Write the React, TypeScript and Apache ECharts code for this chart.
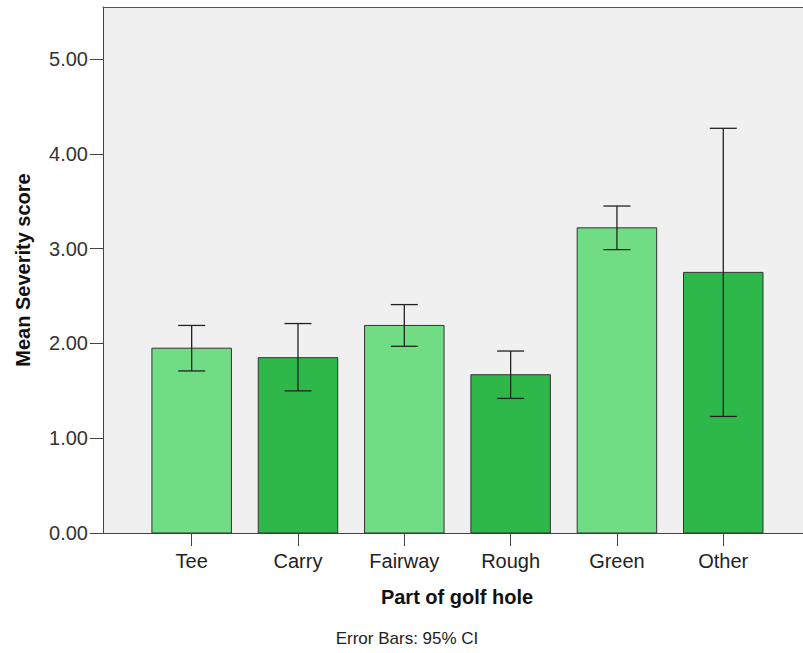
import React, { useEffect, useRef } from "react";
import * as echarts from "echarts";

const categories = ["Tee", "Carry", "Fairway", "Rough", "Green", "Other"];
const means = [1.95, 1.85, 2.19, 1.67, 3.22, 2.75];
const ciLower = [1.71, 1.5, 1.97, 1.42, 2.99, 1.23];
const ciUpper = [2.19, 2.21, 2.41, 1.92, 3.45, 4.27];
const yTicks = [0, 1, 2, 3, 4, 5];

const palette = ["#70DD84", "#2EB84A"];
const FONT = "'Liberation Sans', Arial, sans-serif";

export default function App() {
  const ref = useRef<HTMLDivElement>(null);

  useEffect(() => {
    if (!ref.current) return;
    const chart = echarts.init(ref.current, null, { renderer: "svg" });
    const positions = categories.map((_, i) => i + 1);

    const barData = means.map((m, i) => [positions[i], m]);
    const errData = means.map((_, i) => [positions[i], ciLower[i], ciUpper[i]]);

    const xMin = 0.166;
    const xMax = 6.75;

    chart.setOption({
      animation: false,
      backgroundColor: "#ffffff",
      grid: {
        left: 103,
        right: 0,
        top: 7,
        bottom: 120,
        show: true,
        backgroundColor: "#F0F0F0",
        borderWidth: 0,
      },
      xAxis: [
        {
          type: "value",
          min: xMin,
          max: xMax,
          position: "bottom",
          axisLine: { show: true, lineStyle: { color: "#444", width: 1 } },
          axisTick: {
            show: true,
            inside: false,
            customValues: positions,
            length: 13,
            lineStyle: { color: "#444" },
          },
          axisLabel: {
            show: true,
            customValues: positions,
            formatter: (v: number) => categories[Math.round(v) - 1] ?? "",
            fontFamily: FONT,
            fontSize: 20,
            color: "#222",
            margin: 18,
          },
          splitLine: { show: false },
        },
        {
          type: "value",
          min: xMin,
          max: xMax,
          position: "top",
          axisLine: { show: true, lineStyle: { color: "#555", width: 1 } },
          axisTick: { show: false },
          axisLabel: { show: false },
          splitLine: { show: false },
        },
      ],
      yAxis: {
        type: "value",
        min: 0,
        max: 5.55,
        name: "Mean Severity score",
        nameLocation: "middle",
        nameRotate: 90,
        nameGap: 70,
        nameTextStyle: { fontFamily: FONT, fontSize: 20, fontWeight: "bold", color: "#111" },
        axisLine: { show: true, lineStyle: { color: "#444", width: 1 } },
        axisTick: {
          show: true,
          inside: false,
          customValues: yTicks,
          length: 13,
          lineStyle: { color: "#444" },
        },
        axisLabel: {
          show: true,
          customValues: yTicks,
          formatter: (v: number) => v.toFixed(2),
          fontFamily: FONT,
          fontSize: 20,
          color: "#333",
          margin: 15,
        },
        splitLine: { show: false },
      },
      series: [
        {
          type: "custom",
          xAxisIndex: 0,
          data: barData,
          encode: { x: 0, y: 1 },
          renderItem: (params: any, api: any) => {
            const x = api.value(0);
            const y = api.value(1);
            const p0 = api.coord([x, 0]);
            const p1 = api.coord([x, y]);
            const w = 79.5;
            return {
              type: "rect",
              shape: { x: p0[0] - w / 2, y: p1[1], width: w, height: p0[1] - p1[1] },
              style: {
                fill: palette[params.dataIndex % 2],
                stroke: "#333",
                lineWidth: 1,
              },
            };
          },
        },
        {
          type: "custom",
          xAxisIndex: 0,
          data: errData,
          encode: { x: 0, y: [1, 2] },
          z: 5,
          renderItem: (params: any, api: any) => {
            const x = api.value(0);
            const lo = api.coord([x, api.value(1)]);
            const hi = api.coord([x, api.value(2)]);
            const hw = 13.5;
            const st = { stroke: "#222", lineWidth: 1.3 };
            return {
              type: "group",
              children: [
                { type: "line", shape: { x1: lo[0], y1: lo[1], x2: hi[0], y2: hi[1] }, style: st },
                { type: "line", shape: { x1: lo[0] - hw, y1: lo[1], x2: lo[0] + hw, y2: lo[1] }, style: st },
                { type: "line", shape: { x1: hi[0] - hw, y1: hi[1], x2: hi[0] + hw, y2: hi[1] }, style: st },
              ],
            };
          },
        },
      ],
      graphic: [
        {
          type: "text",
          x: 457,
          y: 597,
          style: {
            text: "Part of golf hole",
            fontFamily: FONT,
            fontSize: 20,
            fontWeight: "bold",
            fill: "#111",
            textAlign: "center",
            textVerticalAlign: "middle",
          },
        },
        {
          type: "text",
          x: 407,
          y: 638,
          style: {
            text: "Error Bars: 95% CI",
            fontFamily: FONT,
            fontSize: 17,
            fill: "#222",
            textAlign: "center",
            textVerticalAlign: "middle",
          },
        },
      ],
    });

    return () => chart.dispose();
  }, []);

  return (
    <div
      ref={ref}
      style={{ position: "fixed", left: 0, top: 0, width: 803, height: 653 }}
    />
  );
}
